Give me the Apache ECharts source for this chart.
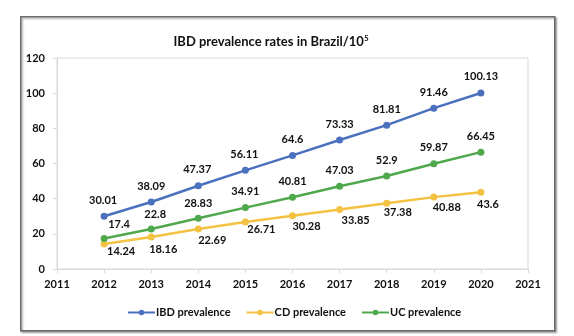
<!DOCTYPE html>
<html>
<head>
<meta charset="utf-8">
<script src="https://cdn.jsdelivr.net/npm/echarts@6/dist/echarts.min.js"></script>
<style>html,body{margin:0;padding:0;background:#fff;}#c{width:574px;height:336px;}</style>
</head>
<body>
<div id="c"></div>
<script>
var years = [2012, 2013, 2014, 2015, 2016, 2017, 2018, 2019, 2020];
var ibd = [30.01, 38.09, 47.37, 56.11, 64.6, 73.33, 81.81, 91.46, 100.13];
var cd = [14.24, 18.16, 22.69, 26.71, 30.28, 33.85, 37.38, 40.88, 43.6];
var uc = [17.4, 22.8, 28.83, 34.91, 40.81, 47.03, 52.9, 59.87, 66.45];
var seriesNames = ['IBD prevalence', 'CD prevalence', 'UC prevalence'];
var colors = ['#4a70be', '#f4c242', '#4fa84c'];

var ibdOff = [[-1,-16],[0,-16],[-1,-16],[-1,-16],[0,-16],[0,-16],[0,-16],[0,-16],[0,-16]];
var cdOff = [[17,7],[12,12],[14,11],[16,7],[14,11],[16,11],[11,9],[13,10],[7,12]];
var ucOff = [[15,-14],[4,-14],[0,-15],[0,-16],[0,-16],[0,-16],[0,-16],[0,-16],[0,-16]];

var font = 'Lato, "Liberation Sans", sans-serif';

function mk(vals, offs) {
  return vals.map(function (v, i) {
    return { value: [years[i], v], label: { offset: offs[i] } };
  });
}
function ser(name, vals, offs, color) {
  return {
    name: name, type: 'line', data: mk(vals, offs),
    symbol: 'circle', symbolSize: 7,
    lineStyle: { width: 2.5, color: color },
    itemStyle: { color: color },
    label: { show: true, position: 'inside', color: '#111', fontSize: 11, fontWeight: 'bold', fontFamily: font,
      formatter: function (p) { return p.value[1]; } },
    emphasis: { disabled: true }, animation: false
  };
}

var chart = echarts.init(document.getElementById('c'));
chart.setOption({
  animation: false,
  graphic: [{
    type: 'rect', left: 20, top: 16, z: -10,
    shape: { width: 534, height: 314 },
    style: { fill: '#fff', stroke: '#6a6a6a', lineWidth: 1.5, shadowColor: 'rgba(0,0,0,0.35)', shadowBlur: 2, shadowOffsetX: 1.5, shadowOffsetY: 1.5 }
  }],
  title: {
    text: '{a|IBD prevalence rates in Brazil/10}{s|5}',
    left: 266, top: 29, textAlign: 'center',
    textStyle: {
      rich: {
        a: { fontSize: 13, fontWeight: 'bold', fontFamily: font, color: '#111', lineHeight: 16 },
        s: { fontSize: 8, fontWeight: 'bold', fontFamily: font, color: '#111', verticalAlign: 'top', lineHeight: 16, padding: [0,0,7,0] }
      }
    }
  },
  legend: {
    data: seriesNames, left: 122, top: 302,
    itemWidth: 27, itemHeight: 7, itemGap: 15,
    textStyle: { fontSize: 11, fontWeight: 'bold', fontFamily: font, color: '#111', padding: [0,0,0,-4] }
  },
  grid: { left: 57, right: 46, top: 58, bottom: 67, show: true, borderColor: '#d9d9d9', borderWidth: 1 },
  xAxis: {
    type: 'value', min: 2011, max: 2021, interval: 1,
    axisLine: { show: true, lineStyle: { color: '#d9d9d9' } },
    axisTick: { show: true, length: 4, lineStyle: { color: '#d9d9d9' } },
    splitLine: { show: false },
    axisLabel: { margin: 10, fontSize: 11, fontWeight: 'bold', fontFamily: font, color: '#111', formatter: function (v) { return String(v); } }
  },
  yAxis: {
    type: 'value', min: 0, max: 120, interval: 20,
    axisLine: { show: true, lineStyle: { color: '#d9d9d9' } },
    axisTick: { show: true, length: 4, lineStyle: { color: '#d9d9d9' } },
    splitLine: { show: false },
    axisLabel: { margin: 12, fontSize: 11, fontWeight: 'bold', fontFamily: font, color: '#111' }
  },
  series: [
    ser(seriesNames[0], ibd, ibdOff, colors[0]),
    ser(seriesNames[1], cd, cdOff, colors[1]),
    ser(seriesNames[2], uc, ucOff, colors[2])
  ]
});
</script>
</body>
</html>
